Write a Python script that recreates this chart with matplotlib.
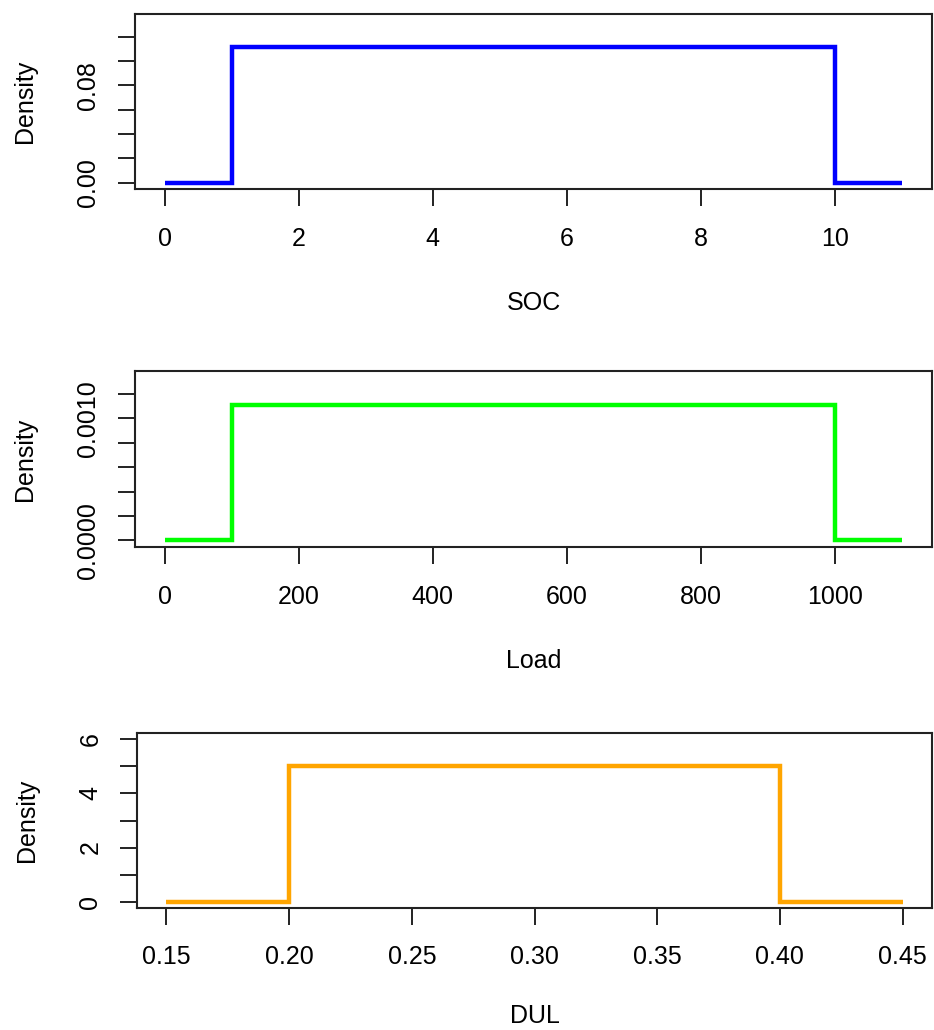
import matplotlib
matplotlib.use("Agg")
import matplotlib.pyplot as plt

plt.rcParams['font.family'] = ['Liberation Sans', 'DejaVu Sans']

# Data: uniform densities as step functions
soc_x = [0, 1, 10, 11]
soc_y = [0, 1/9, 0, 0]
load_x = [0, 100, 1000, 1100]
load_y = [0, 1/900, 0, 0]
dul_x = [0.15, 0.20, 0.40, 0.45]
dul_y = [0, 5, 0, 0]

soc_xticks = [0, 2, 4, 6, 8, 10]
soc_yticks = [0, 0.02, 0.04, 0.06, 0.08, 0.10, 0.12]
soc_ylabels = ["0.00", "", "", "", "0.08", "", ""]
load_xticks = [0, 200, 400, 600, 800, 1000]
load_yticks = [0, 0.0002, 0.0004, 0.0006, 0.0008, 0.0010, 0.0012]
load_ylabels = ["0.0000", "", "", "", "", "0.0010", ""]
dul_xticks = [0.15, 0.20, 0.25, 0.30, 0.35, 0.40, 0.45]
dul_xlabels = ["0.15", "0.20", "0.25", "0.30", "0.35", "0.40", "0.45"]
dul_yticks = [0, 1, 2, 3, 4, 5, 6]
dul_ylabels = ["0", "", "2", "", "4", "", "6"]

W, H = 934, 1030
fig = plt.figure(figsize=(W/100, H/100), dpi=100)

def ax_rect(left, top, right, bottom):
    return [left/W, 1 - bottom/H, (right-left)/W, (bottom-top)/H]

panels = [
    (ax_rect(135, 14, 932, 189), soc_x, soc_y, "#0000FF", "SOC",
     soc_xticks, [str(t) for t in soc_xticks], soc_yticks, soc_ylabels, 29),
    (ax_rect(135, 371, 932, 547), load_x, load_y, "#00FF00", "Load",
     load_xticks, [str(t) for t in load_xticks], load_yticks, load_ylabels, 29),
    (ax_rect(137, 733, 932, 908), dul_x, dul_y, "#FFA500", "DUL",
     dul_xticks, dul_xlabels, dul_yticks, dul_ylabels, 25),
]

for rect, xs, ys, col, xl, xt, xtl, yt, ytl, lp in panels:
    ax = fig.add_axes(rect)
    ax.plot(xs, ys, drawstyle='steps-post', color=col, lw=3.2,
            solid_joinstyle='miter', solid_capstyle='butt')
    x0, x1 = min(xs), max(xs)
    pad = (x1 - x0) * 0.04
    ax.set_xlim(x0 - pad, x1 + pad)
    ymax = max(ys) * 1.2
    ax.set_ylim(-ymax * 0.04, ymax * 1.04)
    ax.set_xticks(xt)
    ax.set_xticklabels(xtl)
    ax.set_yticks(yt)
    ax.set_yticklabels(ytl, rotation=90, va='center')
    ax.tick_params(axis='both', direction='out', length=12, width=1.4,
                   colors='#222222', labelsize=18, labelcolor='#000000')
    ax.tick_params(axis='x', pad=15)
    ax.tick_params(axis='y', pad=13)
    for s in ax.spines.values():
        s.set_linewidth(1.5)
        s.set_color('#222222')
    ax.set_xlabel(xl, fontsize=18, labelpad=lp)
    ax.set_ylabel("Density", fontsize=18, labelpad=28)

fig.savefig("out.png", dpi=100)
